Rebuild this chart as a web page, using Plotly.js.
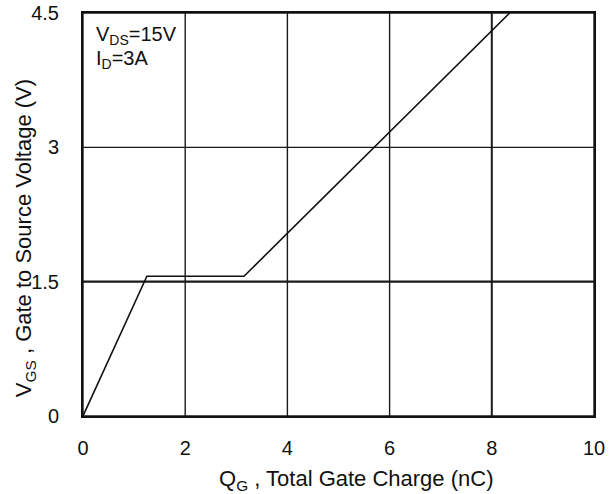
<!DOCTYPE html>
<html>
<head>
<meta charset="utf-8">
<script src="https://cdn.plot.ly/plotly-3.0.1.min.js"></script>
<style>html,body{margin:0;padding:0;background:#fff;}#chart{width:616px;height:494px;}</style>
</head>
<body>
<div id="chart"></div>
<script>
// Gate charge curve (Qg in nC, Vgs in V)
const qg = [0, 1.25, 3.15, 8.35];
const vgs = [0, 1.56, 1.56, 4.5];
const xTicks = [0, 2, 4, 6, 8, 10];
const yTicks = [0, 1.5, 3, 4.5];
const yTickText = ['0', '1.5', '3', '4.5'];

const trace = {
  x: qg, y: vgs, type: 'scatter', mode: 'lines',
  line: {color: '#111', width: 1.6},
  hoverinfo: 'skip', showlegend: false
};

const gridShapes = [];
xTicks.forEach(function(v){
  gridShapes.push({type:'line', xref:'x', yref:'paper', x0:v, x1:v, y0:0, y1:1,
    line:{color:'#1a1a1a', width: (v===8 ? 2 : 1.4)}, layer:'below'});
});
yTicks.forEach(function(v){
  gridShapes.push({type:'line', xref:'paper', yref:'y', x0:0, x1:1, y0:v, y1:v,
    line:{color:'#1a1a1a', width: (v===1.5 ? 2.2 : 1.4)}, layer:'below'});
});

const tickFont = {size: 20, family: 'Liberation Sans, Arial, sans-serif', color: '#111'};

const layout = {
  width: 616, height: 494,
  margin: {l: 83, r: 22, t: 13, b: 78},
  paper_bgcolor: '#fff', plot_bgcolor: '#fff',
  font: {family: 'Liberation Sans, Arial, sans-serif', color: '#111'},
  xaxis: {
    range: [0, 10], tickvals: xTicks, ticktext: xTicks.map(String),
    showgrid: false, zeroline: false, showline: true, mirror: true,
    linecolor: '#111', linewidth: 2, ticks: '', ticklabelstandoff: 13,
    tickfont: tickFont, fixedrange: true
  },
  yaxis: {
    range: [0, 4.5], tickvals: yTicks, ticktext: yTickText,
    showgrid: false, zeroline: false, showline: true, mirror: true,
    linecolor: '#111', linewidth: 2, ticks: '', ticklabelstandoff: 18,
    tickfont: tickFont, fixedrange: true
  },
  shapes: gridShapes,
  annotations: [
    {xref:'paper', yref:'paper', x:0.534, y:-0.16, xanchor:'center', yanchor:'middle',
     text:'Q<sub>G</sub> , Total Gate Charge (nC)', showarrow:false,
     font:{size:22, color:'#111'}},
    {xref:'paper', yref:'paper', x:-0.113, y:0.442, xanchor:'center', yanchor:'middle',
     textangle:-90, text:'V<sub>GS</sub> , Gate to Source Voltage (V)', showarrow:false,
     font:{size:22, color:'#111'}},
    {xref:'paper', yref:'paper', x:0.022, y:0.945, xanchor:'left', yanchor:'middle', align:'left',
     text:'V<sub>DS</sub>=15V', showarrow:false, font:{size:20, color:'#111'}},
    {xref:'paper', yref:'paper', x:0.022, y:0.884, xanchor:'left', yanchor:'middle', align:'left',
     text:'I<sub>D</sub>=3A', showarrow:false, font:{size:20, color:'#111'}}
  ]
};

Plotly.newPlot('chart', [trace], layout, {displayModeBar: false, staticPlot: true});
</script>
</body>
</html>
